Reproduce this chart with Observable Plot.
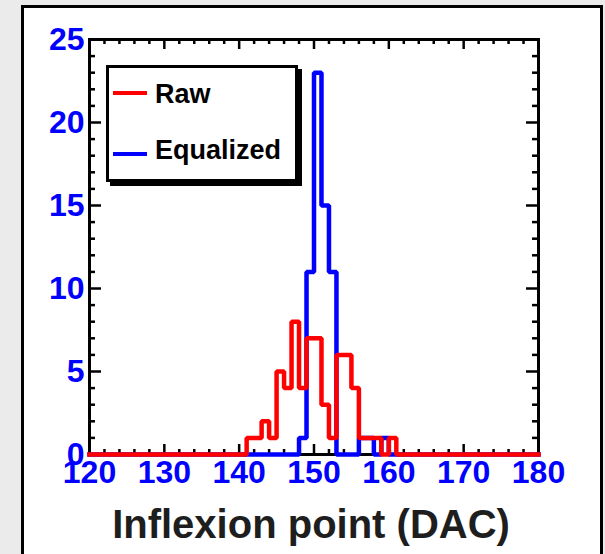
<!DOCTYPE html>
<html>
<head>
<meta charset="utf-8">
<script src="https://cdn.jsdelivr.net/npm/d3@7"></script>
<script src="https://cdn.jsdelivr.net/npm/@observablehq/plot@0.6"></script>
<style>
  html, body {
    margin: 0; padding: 0; width: 605px; height: 554px; overflow: hidden;
    background: #ebebeb;
    font-family: "Liberation Sans", Arial, Helvetica, sans-serif;
  }
  #panel {
    position: absolute; left: 21px; top: 5px; width: 576px; height: 570px;
    border: 3px solid #000; background: #fff;
  }
  #chart { position: absolute; left: 0; top: 0; }
  #legend {
    position: absolute; left: 106px; top: 65px; width: 186px; height: 111px;
    border: 3px solid #000; background: #fff; box-shadow: 4px 4px 0 #000;
  }
  .key { position: absolute; height: 4px; width: 34px; }
  .lab {
    position: absolute; font-size: 27px; line-height: 27px; font-weight: bold;
    color: #000; white-space: nowrap;
  }
</style>
</head>
<body>
<div id="panel"></div>
<div id="chart"></div>
<div id="legend"></div>
<script>
// Inflexion-point distributions per channel (1 DAC bins over 120–180)
const rawBins   = [141, 142, 143, 144, 145, 146, 147, 148, 149, 150, 151, 152, 153, 154, 155, 156, 157, 158, 159, 160];
const rawCounts = [  1,   1,   2,   1,   5,   4,   8,   4,   7,   7,   3,   1,   6,   6,   4,   1,   1,   1,   0,   1];
const eqBins    = [148, 149, 150, 151, 152, 153, 154, 155, 156, 157, 158, 159];
const eqCounts  = [  1,  11,  23,  15,  11,   0,   0,   0,   1,   1,   0,   1];

const xRange = [120, 180];
const yRange = [0, 25];
const xTicks = [120, 130, 140, 150, 160, 170, 180];
const yTicks = [0, 5, 10, 15, 20, 25];
const xTitle = "Inflexion point (DAC)";
const seriesNames = ["Raw", "Equalized"];
const seriesColors = ["#ff0000", "#0000ff"];

// Turn sparse bins into a step outline covering the whole axis range
function outline(bins, counts) {
  const byBin = new Map(bins.map((b, i) => [b, counts[i]]));
  const pts = [];
  for (let b = xRange[0]; b < xRange[1]; b++) pts.push({x: b, y: byBin.get(b) ?? 0});
  pts.push({x: xRange[1], y: pts[pts.length - 1].y});
  return pts;
}
const rawSteps = outline(rawBins, rawCounts);
const eqSteps = outline(eqBins, eqCounts);

const xMinor = d3.range(xRange[0], xRange[1] + 1, 2).filter(v => !xTicks.includes(v));
const yMinor = d3.range(yRange[0], yRange[1] + 1, 1).filter(v => !yTicks.includes(v));

const W = 605, H = 554;
const mL = 89, mR = 67, mT = 39, mB = 100;
const pw = W - mL - mR, ph = H - mT - mB;
const font = "Liberation Sans, Arial, Helvetica, sans-serif";
const tickStyle = {stroke: "#000", strokeWidth: 2.5};
const histStyle = {x: "x", y: "y", curve: "step-after", strokeWidth: 4.5, strokeLinejoin: "miter", strokeLinecap: "square"};

const chart = Plot.plot({
  width: W, height: H,
  marginLeft: mL, marginRight: mR, marginTop: mT, marginBottom: mB,
  style: {background: "transparent", overflow: "visible"},
  x: {domain: xRange, axis: null},
  y: {domain: yRange, axis: null},
  marks: [
    Plot.frame({stroke: "#000", strokeWidth: 3}),
    // bottom and top ticks (pointing inward)
    Plot.tickX(xTicks, {x: d => d, insetTop: ph - 10, ...tickStyle}),
    Plot.tickX(xMinor, {x: d => d, insetTop: ph - 5, ...tickStyle}),
    Plot.tickX(xTicks, {x: d => d, insetBottom: ph - 10, ...tickStyle}),
    Plot.tickX(xMinor, {x: d => d, insetBottom: ph - 5, ...tickStyle}),
    // left and right ticks
    Plot.tickY(yTicks, {y: d => d, insetRight: pw - 12, ...tickStyle}),
    Plot.tickY(yMinor, {y: d => d, insetRight: pw - 6, ...tickStyle}),
    Plot.tickY(yTicks, {y: d => d, insetLeft: pw - 12, ...tickStyle}),
    Plot.tickY(yMinor, {y: d => d, insetLeft: pw - 6, ...tickStyle}),
    // histograms
    Plot.line(eqSteps, {...histStyle, stroke: seriesColors[1]}),
    Plot.line(rawSteps, {...histStyle, stroke: seriesColors[0]}),
    // tick labels
    Plot.text(xTicks, {x: d => d, text: d => String(d), frameAnchor: "bottom", dy: 18, lineAnchor: "middle",
      fill: "#0000ff", fontSize: 32, fontWeight: "bold", fontFamily: font}),
    Plot.text(yTicks, {y: d => d, text: d => String(d), frameAnchor: "left", dx: -5, textAnchor: "end", lineAnchor: "middle",
      fill: "#0000ff", fontSize: 32, fontWeight: "bold", fontFamily: font}),
    // axis title
    Plot.text([xTitle], {text: d => d, frameAnchor: "bottom", dx: -3, dy: 71, lineAnchor: "middle",
      fill: "#1e1e1e", fontSize: 40, fontWeight: "bold", fontFamily: font})
  ]
});
document.getElementById("chart").appendChild(chart);

// legend
const legend = document.getElementById("legend");
const rows = [{key: 23, lab: 13}, {key: 84, lab: 69}];
seriesNames.forEach((name, i) => {
  const k = document.createElement("div");
  k.className = "key";
  k.style.left = "4px";
  k.style.top = rows[i].key + "px";
  k.style.background = seriesColors[i];
  legend.appendChild(k);
  const t = document.createElement("div");
  t.className = "lab";
  t.style.left = "46px";
  t.style.top = rows[i].lab + "px";
  t.textContent = name;
  legend.appendChild(t);
});
</script>
</body>
</html>
